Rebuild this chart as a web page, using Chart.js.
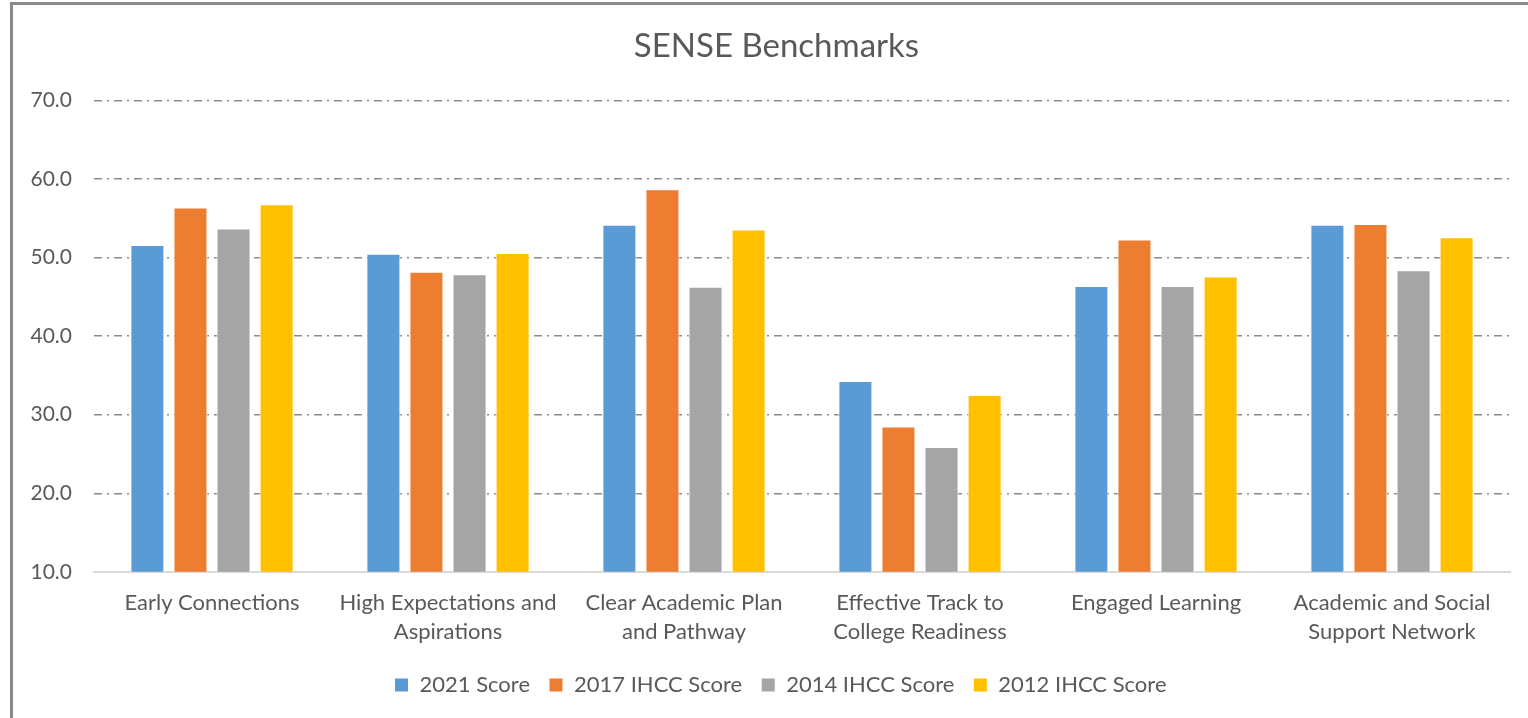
<!DOCTYPE html>
<html>
<head>
<meta charset="utf-8">
<script src="https://cdn.jsdelivr.net/npm/chart.js"></script>
<style>
  html, body { margin: 0; padding: 0; background: #fff; overflow: hidden; }
  #frame {
    position: absolute; left: 10px; top: 2px;
    width: 1530px; height: 720px;
    border-left: 3px solid #8a8a8a; border-top: 3px solid #8a8a8a;
  }
  #wrap { position: absolute; left: 0; top: 0; width: 1526px; height: 713px; }
</style>
</head>
<body>
<div id="frame"><div id="wrap"><canvas id="chart"></canvas></div></div>
<script>
const categories = [
  'Early Connections',
  ['High Expectations and', 'Aspirations'],
  ['Clear Academic Plan', 'and Pathway'],
  ['Effective Track to', 'College Readiness'],
  'Engaged Learning',
  ['Academic and Social', 'Support Network'],
];
const seriesNames = ['2021 Score', '2017 IHCC Score', '2014 IHCC Score', '2012 IHCC Score'];
const score2021 = [51.6, 50.5, 54.2, 34.3, 46.4, 54.2];
const score2017 = [56.4, 48.2, 58.7, 28.5, 52.3, 54.3];
const score2014 = [53.7, 47.9, 46.3, 25.9, 46.4, 48.4];
const score2012 = [56.8, 50.6, 53.6, 32.5, 47.6, 52.6];
const colors = ['#5B9BD5', '#ED7D31', '#A5A5A5', '#FFC000'];

const textColor = '#595959';
const fontFamily = 'Lato, "Open Sans", sans-serif';

const allScores = [score2021, score2017, score2014, score2012];

// title and legend sit a bit right of the canvas centre in the original
const centreShift = {
  id: 'centreShift',
  afterLayout(chart) {
    if (chart.titleBlock) { chart.titleBlock.left += 15; chart.titleBlock.right += 15; }
    if (chart.legend) { chart.legend.left += 19; chart.legend.right += 19; }
  },
};

new Chart(document.getElementById('chart'), {
  type: 'bar',
  plugins: [centreShift],
  data: {
    labels: categories,
    datasets: allScores.map((vals, i) => ({
      label: seriesNames[i],
      data: vals,
      backgroundColor: colors[i],
      borderColor: '#ffffff',
      borderWidth: 1,
      categoryPercentage: 0.73,
      barPercentage: 0.79,
    })),
  },
  options: {
    responsive: true,
    maintainAspectRatio: false,
    animation: false,
    layout: { padding: { left: 0, right: 29, top: 0, bottom: 12 } },
    plugins: {
      title: {
        display: true,
        text: 'SENSE Benchmarks',
        color: textColor,
        font: { family: fontFamily, size: 33, weight: 'normal' },
        padding: { top: 22, bottom: 34 },
      },
      legend: {
        position: 'bottom',
        labels: {
          color: textColor,
          font: { family: fontFamily, size: 22 },
          boxWidth: 14,
          boxHeight: 14,
          padding: 19,
        },
      },
      tooltip: { enabled: false },
    },
    scales: {
      x: {
        grid: { display: false },
        border: { display: true, color: '#d9d9d9', width: 2 },
        ticks: {
          color: textColor,
          font: { family: fontFamily, size: 22, lineHeight: 1.3 },
          maxRotation: 0,
          autoSkip: false,
          padding: 9,
        },
      },
      y: {
        min: 10,
        max: 70,
        afterFit: (scale) => { scale.width = 81; },
        border: { display: false, dash: [8, 5, 2, 5] },
        grid: {
          color: (ctx) => (ctx.tick && ctx.tick.value === 10 ? 'rgba(0,0,0,0)' : '#8c8c8c'),
          lineWidth: 1.5,
          drawTicks: false,
        },
        ticks: {
          stepSize: 10,
          color: textColor,
          font: { family: fontFamily, size: 21 },
          padding: 22,
          callback: (v) => Number(v).toFixed(1),
        },
      },
    },
  },
});
</script>
</body>
</html>
